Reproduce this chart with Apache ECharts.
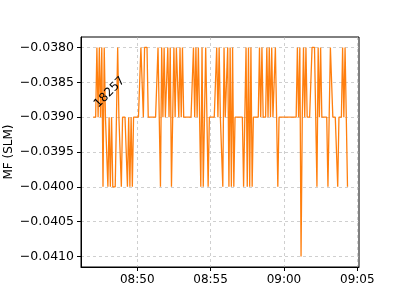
<!DOCTYPE html>
<html>
<head>
<meta charset="utf-8">
<script src="https://cdn.jsdelivr.net/npm/echarts@6/dist/echarts.min.js"></script>
<style>html,body{margin:0;padding:0;background:#fff}#c{width:400px;height:300px}</style>
</head>
<body>
<div id="c"></div>
<script>
// Sample clock: first reading 08:47:00, one reading every 5 s
var startSec = 8 * 3600 + 47 * 60;
var stepSec = 5;
// MF (SLM) readings, one row per minute (12 readings)
var mfValues = [
  -0.039,-0.039,-0.039,-0.038,-0.039,-0.038,-0.039,-0.038,-0.040,-0.038,-0.039,-0.039,
  -0.040,-0.039,-0.040,-0.039,-0.040,-0.040,-0.040,-0.039,-0.038,-0.039,-0.039,-0.040,
  -0.039,-0.039,-0.039,-0.039,-0.040,-0.039,-0.040,-0.039,-0.040,-0.039,-0.039,-0.039,
  -0.039,-0.039,-0.039,-0.038,-0.038,-0.039,-0.038,-0.038,-0.038,-0.039,-0.039,-0.039,
  -0.039,-0.039,-0.039,-0.039,-0.039,-0.038,-0.039,-0.040,-0.038,-0.039,-0.038,-0.039,
  -0.039,-0.038,-0.039,-0.038,-0.040,-0.039,-0.038,-0.039,-0.038,-0.038,-0.039,-0.038,
  -0.039,-0.038,-0.039,-0.039,-0.039,-0.039,-0.039,-0.039,-0.039,-0.039,-0.038,-0.039,
  -0.038,-0.039,-0.038,-0.039,-0.040,-0.038,-0.040,-0.039,-0.038,-0.039,-0.040,-0.039,
  -0.039,-0.039,-0.039,-0.039,-0.039,-0.038,-0.039,-0.038,-0.039,-0.039,-0.040,-0.038,
  -0.039,-0.039,-0.038,-0.040,-0.038,-0.040,-0.038,-0.040,-0.039,-0.039,-0.039,-0.039,
  -0.039,-0.039,-0.039,-0.040,-0.039,-0.038,-0.040,-0.038,-0.040,-0.038,-0.040,-0.039,
  -0.039,-0.039,-0.039,-0.039,-0.038,-0.039,-0.038,-0.039,-0.039,-0.039,-0.038,-0.039,
  -0.038,-0.039,-0.038,-0.039,-0.039,-0.038,-0.039,-0.040,-0.039,-0.039,-0.039,-0.039,
  -0.039,-0.039,-0.039,-0.039,-0.039,-0.039,-0.039,-0.039,-0.039,-0.039,-0.039,-0.038,
  -0.039,-0.038,-0.041,-0.039,-0.038,-0.039,-0.038,-0.039,-0.039,-0.039,-0.039,-0.038,
  -0.038,-0.038,-0.039,-0.040,-0.038,-0.039,-0.038,-0.039,-0.039,-0.039,-0.039,-0.039,
  -0.040,-0.039,-0.038,-0.038,-0.039,-0.039,-0.039,-0.039,-0.040,-0.039,-0.039,-0.039,
  -0.038,-0.039,-0.038,-0.039,-0.040
];
var xTickTimes = ['08:50', '08:55', '09:00', '09:05'];
var yTickValues = [-0.0410, -0.0405, -0.0400, -0.0395, -0.0390, -0.0385, -0.0380];
var annotationText = '18257';
var yAxisTitle = 'MF (SLM)';

function hmToSec(s) { var p = s.split(':'); return (+p[0]) * 3600 + (+p[1]) * 60; }
function secToHM(v) {
  var h = Math.floor(v / 3600), m = Math.round((v - h * 3600) / 60);
  return (h < 10 ? '0' : '') + h + ':' + (m < 10 ? '0' : '') + m;
}
var seriesData = mfValues.map(function (v, i) { return [startSec + i * stepSec, v]; });
var xTicks = xTickTimes.map(hmToSec);

var FONT = 'DejaVu Sans';
var chart = echarts.init(document.getElementById('c'), null, { renderer: 'canvas' });
chart.setOption({
  animation: false,
  backgroundColor: '#ffffff',
  grid: { left: 81, right: 41, top: 37, bottom: 33, containLabel: false, outerBoundsMode: 'none',
    show: true, borderColor: '#000', borderWidth: 1, backgroundColor: 'transparent' },
  xAxis: {
    type: 'value',
    min: hmToSec('08:46') + 10,
    max: hmToSec('09:05') + 7,
    axisLine: { show: true, onZero: false, lineStyle: { color: '#000', width: 1 } },
    axisTick: { show: true, length: 4, customValues: xTicks, lineStyle: { color: '#000' } },
    axisLabel: { customValues: xTicks, margin: 7, color: '#000', fontFamily: FONT, fontSize: 12, formatter: function (v) { return secToHM(v); } },
    splitLine: { show: true, lineStyle: { color: '#b0b0b0', type: [3, 3], width: 0.6 } }
  },
  yAxis: {
    type: 'value',
    min: -0.04115,
    max: -0.03785,
    name: yAxisTitle,
    nameLocation: 'middle',
    nameGap: 66,
    nameMoveOverlap: false,
    nameTextStyle: { color: '#000', fontFamily: FONT, fontSize: 12 },
    axisLine: { show: true, onZero: false, lineStyle: { color: '#000', width: 1 } },
    axisTick: { show: true, length: 4, customValues: yTickValues, lineStyle: { color: '#000' } },
    axisLabel: { customValues: yTickValues, margin: 7, color: '#000', fontFamily: FONT, fontSize: 12.5,
      formatter: function (v) { return '\u2212' + Math.abs(v).toFixed(4); } },
    splitLine: { show: true, lineStyle: { color: '#b0b0b0', type: [3, 3], width: 0.6 } }
  },
  series: [{
    type: 'line',
    data: seriesData,
    showSymbol: false,
    symbol: 'none',
    lineStyle: { color: '#ff7f0e', width: 1.3 },
    itemStyle: { color: '#ff7f0e' },
    markPoint: {
      symbol: 'circle',
      symbolSize: 0,
      silent: true,
      data: [{
        coord: seriesData[0],
        label: {
          show: true, formatter: annotationText, position: [0, 0], rotate: 45, offset: [10, 0],
          align: 'left', verticalAlign: 'bottom', color: '#000', fontFamily: FONT, fontSize: 12
        }
      }]
    }
  }]
});
</script>
</body>
</html>
